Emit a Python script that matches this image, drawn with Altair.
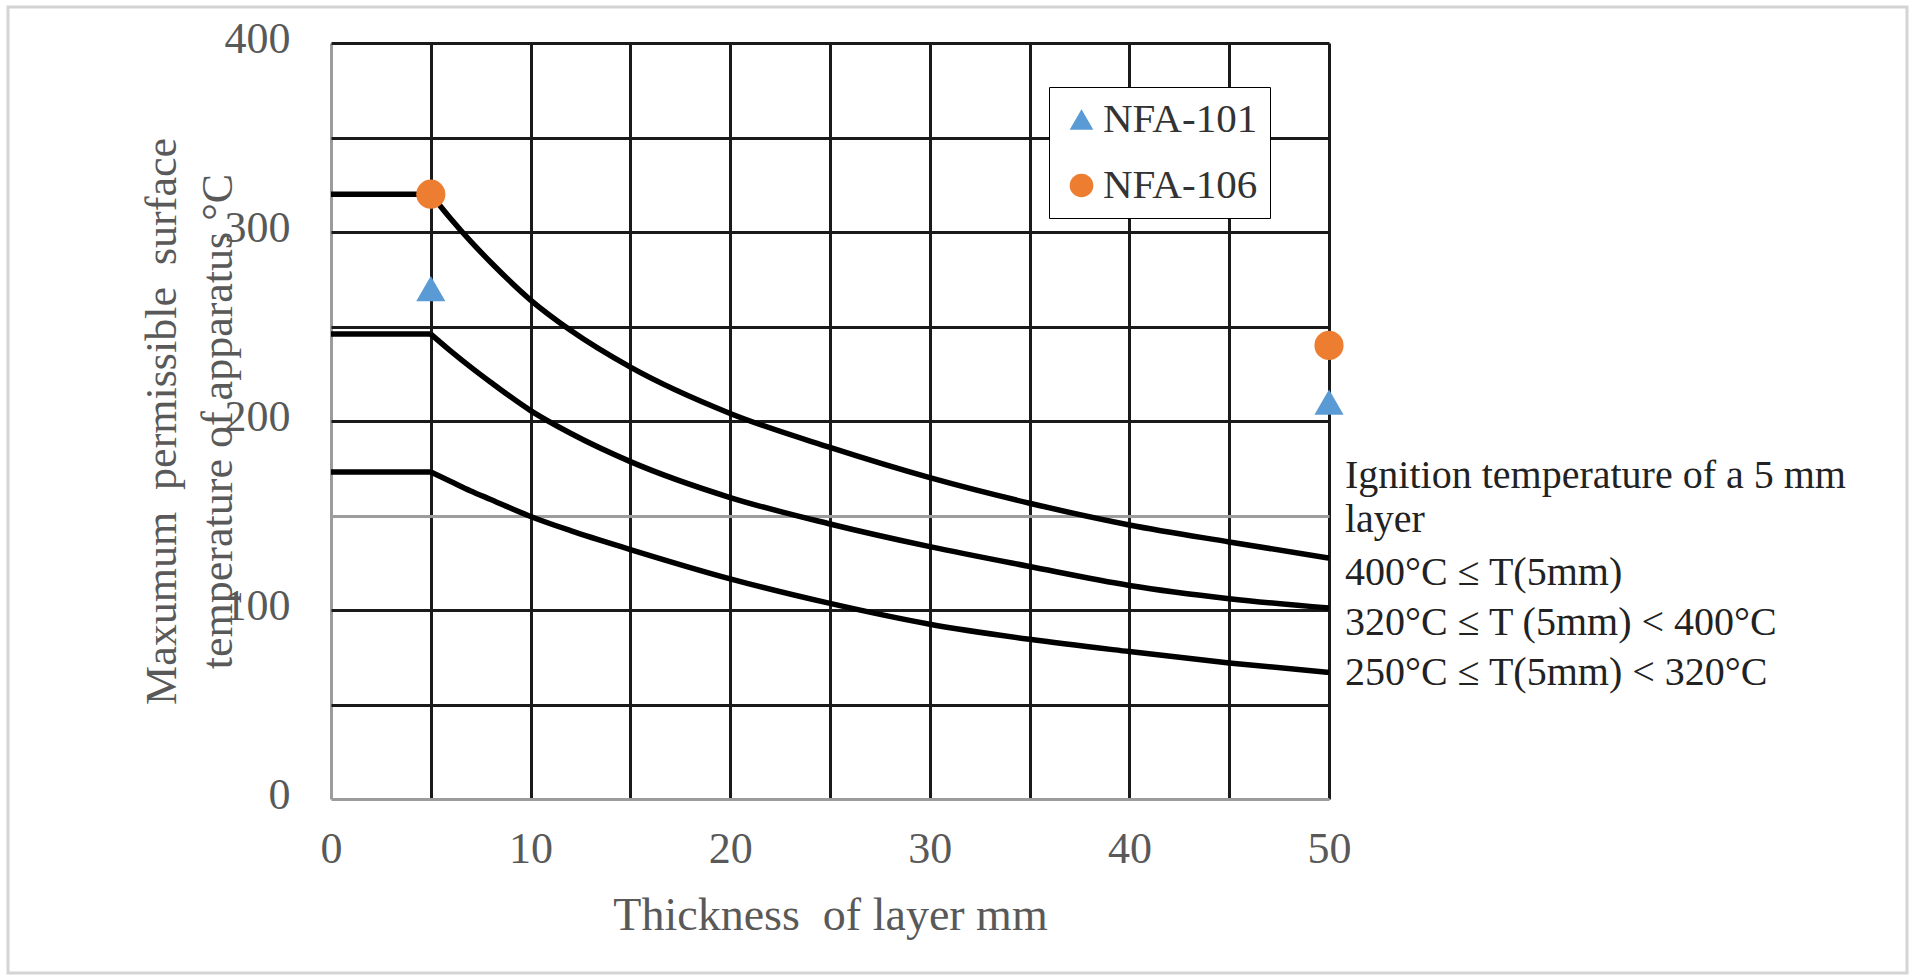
import altair as alt
import pandas as pd

# ---- data ----
thickness = [0, 5, 6, 7, 8, 10, 12, 15, 20, 25, 30, 35, 40, 45, 50]
curve_400 = [320, 320, 307, 295, 284, 264, 248, 228.5, 204, 186, 170, 156.5, 145, 136, 127.5]
curve_320 = [246, 246, 237, 228.5, 220.5, 205.5, 193.5, 178.5, 159.5, 145.5, 133.5, 123, 113, 106, 101]
curve_250 = [173, 173, 168, 163, 158.5, 149.5, 142, 132, 116.5, 103.5, 92.5, 84.5, 78, 72, 67]
curve_names = ["400", "320", "250"]

series_names = ["NFA-101", "NFA-106"]
marker_x = [5, 50]
nfa101 = [270, 210]
nfa106 = [320, 240]

ann_text = [
    "Ignition temperature of a 5 mm",
    "layer",
    "400°C ≤ T(5mm)",
    "320°C ≤ T (5mm) < 400°C",
    "250°C ≤ T(5mm) < 320°C",
]
ann_anchor = [164.6, 141.3, 113.2, 86.8, 60.3]

x_grid = [0, 5, 10, 15, 20, 25, 30, 35, 40, 45, 50]
y_grid = [0, 50, 100, 150, 200, 250, 300, 350, 400]

FONT = "Liberation Serif"
NB = "\u00a0"
W, H = 998, 756

# ---- tables ----
rows = []
for name, ys in zip(curve_names, [curve_400, curve_320, curve_250]):
    for xv, yv in zip(thickness, ys):
        if xv <= 5:
            rows.append({"curve": name, "seg": name + "_flat", "x": xv, "y": yv})
        if xv >= 5:
            rows.append({"curve": name, "seg": name + "_decay", "x": xv, "y": yv})
df_lines = pd.DataFrame(rows)

pts = []
for s, ys in zip(series_names, [nfa101, nfa106]):
    for xv, yv in zip(marker_x, ys):
        pts.append({"series": s, "x": xv, "y": yv})
df_pts = pd.DataFrame(pts)

df_ann = pd.DataFrame({"text": ann_text, "y": ann_anchor, "x": [50] * len(ann_text)})

x_scale = alt.Scale(domain=[0, 50], nice=False, zero=False)
y_scale = alt.Scale(domain=[0, 400], nice=False)

grid_dark = "#1a1a1a"
x_axis = alt.Axis(
    values=x_grid,
    labelExpr="datum.value % 10 === 0 ? datum.label : ''",
    labelFlush=False,
    grid=True,
    gridColor={"condition": {"test": "datum.value === 0", "value": "#9c9c9c"}, "value": grid_dark},
    gridWidth=3,
    domain=False,
    ticks=False,
    labelFont=FONT,
    labelFontSize=44,
    labelColor="#595959",
    labelPadding=28,
    title="Thickness" + NB + " of layer mm",
    titleFont=FONT,
    titleFontSize=46,
    titleFontWeight="normal",
    titleColor="#595959",
    titlePadding=22,
)
y_axis = alt.Axis(
    values=y_grid,
    labelExpr="datum.value % 100 === 0 ? datum.label : ''",
    labelFlush=False,
    labelOffset=-4,
    grid=True,
    gridColor={"condition": {"test": "datum.value === 0 || datum.value === 150", "value": "#9c9c9c"},
               "value": grid_dark},
    gridWidth=3,
    domain=False,
    ticks=False,
    labelFont=FONT,
    labelFontSize=44,
    labelColor="#595959",
    labelPadding=41,
    title=["Maxumum" + NB + " permissible" + NB + " surface", "temperature of apparatus °C"],
    titleFont=FONT,
    titleFontSize=44,
    titleFontWeight="normal",
    titleColor="#595959",
    titleLineHeight=56,
    titleAngle=270,
    titleAlign="center",
    titleBaseline="middle",
    titleX=-169,
    titleY=378,
)

lines = alt.Chart(df_lines).mark_line(color="black", strokeWidth=5.5, interpolate="monotone").encode(
    x=alt.X("x:Q", scale=x_scale, axis=x_axis),
    y=alt.Y("y:Q", scale=y_scale, axis=y_axis),
    detail="seg:N",
)

legend = alt.Legend(
    title=None,
    orient="none",
    legendX=718,
    legendY=44,
    fillColor="white",
    strokeColor="black",
    padding=12,
    rowPadding=24,
    labelFont=FONT,
    labelFontSize=41,
    labelColor="#333333",
    labelOffset=1,
    symbolSize=560,
    symbolStrokeWidth=0,
)

points = alt.Chart(df_pts).mark_point(filled=True, opacity=1, size=850).encode(
    x=alt.X("x:Q", scale=x_scale),
    y=alt.Y("y:Q", scale=y_scale),
    color=alt.Color("series:N", scale=alt.Scale(domain=series_names, range=["#5B9BD5", "#ED7D31"]), legend=legend),
    shape=alt.Shape("series:N", scale=alt.Scale(domain=series_names, range=["triangle-up", "circle"]), legend=legend),
)

ann = alt.Chart(df_ann).mark_text(
    align="left", baseline="alphabetic", dx=16, font=FONT, fontSize=40, color="#222222"
).encode(
    x=alt.X("x:Q", scale=x_scale),
    y=alt.Y("y:Q", scale=y_scale),
    text="text:N",
)

frame = alt.Chart(pd.DataFrame({"k": [0]})).mark_rect(
    fill=None, stroke="#d4d4d4", strokeWidth=3
).encode(
    x=alt.value(-323), x2=alt.value(1576), y=alt.value(-36), y2=alt.value(930)
)

chart = alt.layer(frame, lines, points, ann).properties(
    width=W,
    height=H,
    autosize=alt.AutoSizeParams(type="none"),
    padding={"left": 331, "top": 43, "right": 1923 - 331 - W, "bottom": 980 - 43 - H},
    background="white",
).configure_view(stroke=None)

chart.save("out.html", embed_options={"renderer": "svg", "actions": False})
